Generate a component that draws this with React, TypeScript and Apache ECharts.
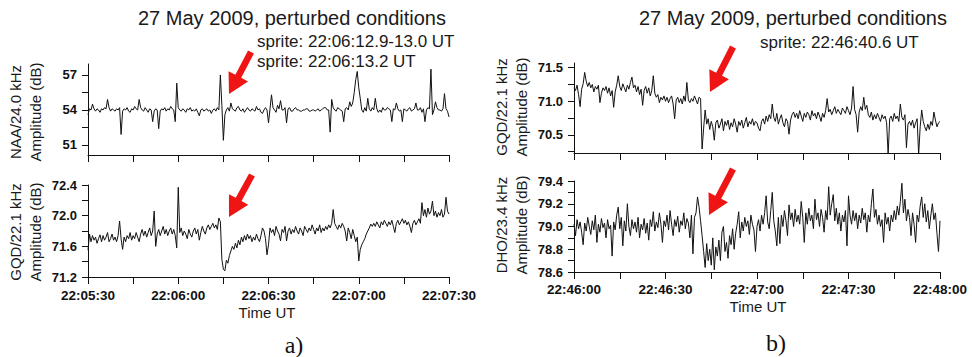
import React, { useEffect, useRef } from "react";
import * as echarts from "echarts";

// ---------- data (amplitudes in dB, sampled every 0.5 s from the panel start) ----------
const step = 0.5;

const naaA = [
  53.6, 54.1, 54.0, 54.5, 54.1, 53.9, 54.1, 54.0, 53.8, 54.1,
  54.0, 54.2, 54.1, 54.9, 54.2, 53.9, 54.1, 54.0, 53.9, 54.1,
  54.0, 54.2, 51.9, 53.9, 54.1, 54.0, 54.2, 53.9, 53.8, 54.1,
  54.0, 54.3, 54.1, 54.0, 54.9, 54.2, 54.0, 53.9, 54.2, 54.0,
  53.8, 54.1, 54.0, 53.0, 53.9, 54.1, 54.0, 52.4, 53.9, 54.1,
  54.0, 54.2, 53.9, 54.1, 54.0, 54.3, 54.1, 54.0, 53.0, 56.3,
  54.2, 54.0, 53.9, 54.1, 54.0, 53.8, 54.1, 54.0, 54.2, 53.9,
  54.0, 53.9, 54.1, 53.8, 53.5, 54.0, 54.1, 53.9, 54.0, 54.1,
  53.9, 54.0, 53.7, 54.0, 54.1, 53.9, 54.2, 54.0, 57.0, 54.4,
  51.4, 53.6, 54.0, 54.2, 53.9, 54.6, 54.1, 54.0, 53.9, 54.2,
  54.3, 54.0, 53.9, 54.1, 53.8, 54.0, 54.2, 54.0, 53.9, 54.1,
  54.0, 53.9, 54.3, 54.0, 54.1, 53.8, 53.7, 54.0, 54.2, 54.0,
  52.9, 54.1, 55.3, 54.2, 54.0, 53.8, 54.4, 54.1, 54.8, 54.0,
  54.0, 54.2, 52.9, 54.1, 54.2, 53.9, 53.9, 54.1, 54.2, 54.0,
  54.0, 53.9, 53.9, 54.0, 54.0, 54.1, 54.1, 53.9, 53.9, 54.0,
  54.0, 53.9, 54.0, 54.1, 53.9, 54.0, 54.1, 54.2, 54.2, 54.0,
  54.0, 52.1, 54.9, 54.2, 54.0, 53.9, 54.2, 54.1, 54.0, 53.9,
  53.0, 54.1, 54.2, 54.0, 54.7, 54.3, 54.6, 55.5, 56.6, 57.3,
  55.9, 55.0, 54.0, 53.8, 54.2, 53.9, 55.0, 54.1, 53.9, 54.2,
  54.0, 55.0, 54.1, 53.8, 54.0, 53.8, 54.2, 54.0, 54.0, 54.2,
  54.1, 54.0, 53.0, 54.1, 54.0, 54.6, 54.1, 53.9, 54.0, 53.0,
  54.1, 54.0, 53.9, 54.1, 54.2, 53.9, 54.0, 54.1, 54.6, 54.0,
  54.0, 54.2, 53.8, 54.1, 53.0, 54.0, 54.2, 54.1, 57.5, 53.6,
  54.0, 54.7, 54.2, 54.0, 54.0, 53.9, 54.1, 55.4, 54.1, 53.9,
  53.4,
];

const gqdA = [
  71.55, 71.76, 71.66, 71.74, 71.68, 71.72, 71.64, 71.70, 71.75, 71.66,
  71.74, 71.68, 71.72, 71.78, 71.66, 71.70, 71.76, 71.68, 71.72, 71.66,
  71.74, 71.93, 71.70, 71.56, 71.72, 71.66, 71.74, 71.70, 71.78, 71.68,
  71.74, 71.70, 71.78, 71.72, 71.66, 71.76, 71.82, 71.74, 71.80, 71.72,
  71.78, 71.84, 71.74, 71.80, 72.06, 71.60, 71.76, 71.82, 71.74, 71.80,
  71.86, 71.76, 71.82, 71.74, 71.80, 71.84, 71.76, 71.82, 71.74, 71.58,
  72.37, 71.78, 71.84, 71.74, 71.80, 71.76, 71.70, 71.82, 71.76, 71.72,
  71.80, 71.84, 71.76, 71.82, 71.68, 71.78, 71.86, 71.80, 71.76, 71.84,
  71.88, 71.82, 71.86, 71.90, 71.84, 71.88, 71.82, 71.97, 71.92, 71.43,
  71.30, 71.28, 71.42, 71.38, 71.48, 71.54, 71.60, 71.56, 71.64, 71.58,
  71.68, 71.62, 71.72, 71.66, 71.74, 71.68, 71.76, 71.70, 71.74, 71.66,
  71.72, 71.68, 71.76, 71.70, 71.66, 71.74, 71.84, 71.80, 71.70, 71.49,
  71.62, 71.84, 71.78, 71.82, 71.74, 71.86, 71.80, 71.76, 71.67, 71.82,
  71.78, 71.86, 71.67, 71.80, 71.84, 71.76, 71.82, 71.78, 71.86, 71.80,
  71.76, 71.84, 71.80, 71.74, 71.86, 71.82, 71.78, 71.84, 71.80, 71.88,
  71.82, 71.76, 71.84, 71.80, 71.88, 71.78, 71.84, 71.80, 71.86, 71.82,
  71.88, 71.84, 71.90, 72.08, 71.90, 71.86, 71.82, 71.88, 71.84, 71.90,
  71.86, 71.80, 71.67, 71.84, 71.78, 71.70, 71.82, 71.74, 71.66, 71.72,
  71.41, 71.56, 71.62, 71.66, 71.70, 71.76, 71.80, 71.84, 71.89, 71.86,
  71.90, 71.86, 71.92, 71.88, 71.84, 71.92, 71.88, 71.94, 71.90, 71.86,
  71.92, 71.88, 71.94, 71.86, 71.78, 71.90, 71.94, 71.88, 71.92, 71.96,
  71.90, 71.94, 71.88, 71.92, 71.86, 71.78, 71.90, 71.94, 71.88, 71.92,
  71.96, 71.90, 72.17, 72.00, 72.08, 71.98, 72.10, 72.02, 72.06, 72.19,
  72.00, 72.06, 71.98, 72.04, 72.00, 72.08, 71.98, 72.02, 72.24, 72.06,
  72.02,
];

const gqdB = [
  71.20, 71.16, 71.24, 71.10, 70.92, 71.18, 71.26, 71.43, 71.30, 71.22,
  71.28, 71.20, 71.25, 71.14, 71.22, 71.18, 71.24, 70.98, 71.12, 71.20,
  71.16, 71.22, 71.12, 71.20, 71.08, 71.16, 70.91, 71.14, 71.24, 71.38,
  71.22, 71.16, 71.26, 71.20, 71.14, 71.24, 71.18, 71.28, 71.36, 71.20,
  71.24, 71.14, 71.22, 71.10, 71.18, 70.94, 71.16, 71.22, 71.12, 71.20,
  71.08, 71.16, 71.38, 71.12, 71.06, 71.10, 70.98, 71.06, 71.02, 71.08,
  71.00, 71.06, 70.98, 71.04, 71.08, 70.96, 70.74, 71.02, 71.06, 70.98,
  71.04, 70.96, 71.08, 71.00, 71.28, 71.02, 70.98, 71.04, 71.00, 71.08,
  71.02, 70.96, 71.06, 71.04, 70.29, 70.60, 70.87, 70.66, 70.74, 70.58,
  70.70, 70.62, 70.42, 70.68, 70.72, 70.60, 70.66, 70.74, 70.56, 70.70,
  70.64, 70.72, 70.58, 70.68, 70.62, 70.74, 70.66, 70.54, 70.70, 70.64,
  70.72, 70.60, 70.68, 70.76, 70.62, 70.70, 70.66, 70.74, 70.64, 70.70,
  70.68, 70.60, 70.56, 70.70, 70.74, 70.66, 70.78, 70.70, 70.80, 70.74,
  70.96, 70.76, 70.70, 70.82, 70.66, 70.74, 70.80, 70.68, 70.62, 70.74,
  70.70, 70.51, 70.72, 70.80, 70.84, 70.76, 70.82, 70.74, 70.86, 70.78,
  70.70, 70.82, 70.76, 70.84, 70.80, 70.72, 70.86, 70.78, 70.82, 70.74,
  70.84, 70.78, 70.70, 70.82, 70.76, 70.86, 71.04, 70.84, 70.88, 70.80,
  70.86, 70.92, 70.82, 70.88, 70.84, 70.80, 70.90, 70.86, 70.82, 70.92,
  70.86, 70.80, 70.90, 71.22, 70.88, 70.80, 70.54, 70.84, 70.92, 70.86,
  71.06, 70.88, 70.94, 70.80, 70.76, 70.84, 70.72, 70.80, 70.74, 70.82,
  70.76, 70.70, 70.80, 70.74, 70.78, 70.68, 70.20, 70.74, 70.78, 70.70,
  70.82, 70.74, 70.78, 70.70, 70.96, 70.76, 70.72, 70.80, 70.31, 70.66,
  70.70, 70.64, 70.72, 70.60, 70.68, 70.74, 70.20, 70.62, 70.87, 70.70,
  70.62, 70.56, 70.66, 70.58, 70.70, 70.64, 70.84, 70.72, 70.62, 70.68,
  70.70,
];

const dhoB = [
  79.02, 78.92, 79.06, 78.98, 79.04, 78.95, 78.84, 79.03, 78.96, 79.08,
  79.00, 78.93, 79.05, 78.97, 79.10, 78.86, 79.02, 78.95, 79.07, 78.99,
  79.03, 78.90, 79.06, 78.98, 79.01, 78.74, 79.04, 78.97, 79.10, 79.17,
  78.98, 79.08, 78.83, 79.05, 78.96, 79.20, 79.00, 78.92, 79.06, 78.98,
  79.04, 78.95, 79.08, 78.90, 79.02, 78.97, 79.07, 78.94, 79.03, 78.88,
  79.06, 79.00, 79.13, 78.96, 79.04, 78.99, 79.12, 79.02, 78.86, 79.05,
  79.00, 79.10, 78.97, 79.14, 79.02, 78.92, 79.06, 79.00, 79.09, 78.95,
  79.05, 79.01, 79.12, 78.98, 79.07, 79.03, 78.90, 79.10, 78.76, 79.08,
  79.12, 79.26, 79.17, 79.05, 78.92, 78.78, 78.64, 78.85, 78.70, 78.80,
  78.66, 78.90, 78.62, 78.82, 78.74, 78.88, 78.70, 78.95, 79.00, 78.78,
  78.86, 78.72, 78.92, 78.84, 78.98, 78.80, 78.94, 79.02, 79.13, 78.90,
  79.04, 78.96, 79.08, 79.00, 79.05, 78.93, 79.10, 79.02, 78.97, 78.78,
  79.00, 79.06, 78.96, 79.10, 79.02, 79.12, 79.27, 79.04, 78.98, 79.14,
  79.30, 79.05, 78.96, 78.83, 79.08, 78.85, 79.10, 79.00, 79.14, 79.05,
  78.92, 79.19, 79.06, 79.12, 79.00, 79.15, 79.04, 79.10, 79.02, 79.22,
  79.08, 78.86, 79.12, 79.02, 79.16, 79.05, 79.10, 78.98, 79.24, 79.06,
  79.12, 79.00, 79.15, 79.08, 78.95, 79.14, 79.06, 79.35, 79.10, 79.20,
  79.28, 79.05, 79.16, 79.02, 79.12, 78.96, 79.10, 79.04, 79.14, 78.83,
  79.27, 79.10, 79.02, 79.14, 79.05, 79.12, 78.98, 79.10, 79.03, 79.16,
  79.06, 79.12, 78.95, 79.10, 79.04, 79.20, 79.33, 79.08, 79.15, 79.02,
  79.10, 79.00, 79.06, 78.86, 79.12, 79.02, 79.08, 78.96, 79.10, 79.04,
  79.14, 79.06, 79.18, 79.10, 79.22, 79.38, 79.12, 79.24, 79.05, 79.15,
  79.08, 78.92, 79.12, 79.02, 78.86, 79.10, 79.04, 79.18, 79.26, 79.08,
  79.20, 79.04, 79.14, 78.98, 79.10, 79.20, 79.06, 79.12, 78.94, 78.78,
  79.05,
];

// ---------- axis labels / ticks ----------
const timeLabelsA = ["22:05:30", "22:06:00", "22:06:30", "22:07:00", "22:07:30"];
const timeLabelsB = ["22:46:00", "22:46:30", "22:47:00", "22:47:30", "22:48:00"];
const xTickSeconds = [0, 15, 30, 45, 60, 75, 90, 105, 120];
const xLabelSeconds = [0, 30, 60, 90, 120];

const naaLabels = [51, 54, 57];
const naaTicks = [51, 52.5, 54, 55.5, 57];
const gqdALabels = [71.2, 71.6, 72.0, 72.4];
const gqdATicks = [71.2, 71.4, 71.6, 71.8, 72.0, 72.2, 72.4];
const gqdBLabels = [70.5, 71.0, 71.5];
const gqdBTicks = [70.25, 70.5, 70.75, 71.0, 71.25, 71.5];
const dhoLabels = [78.6, 78.8, 79.0, 79.2, 79.4];
const dhoTicks = [78.6, 78.7, 78.8, 78.9, 79.0, 79.1, 79.2, 79.3, 79.4];

const FONT = "'Liberation Sans', Arial, sans-serif";

function toPairs(arr: number[], dt: number) {
  return arr.map((v, i) => [i * dt, v]);
}

function arrowPoints(x1: number, y1: number, x2: number, y2: number) {
  const dx = x2 - x1, dy = y2 - y1;
  const L = Math.hypot(dx, dy);
  const ux = dx / L, uy = dy / L;
  const px = -uy, py = ux;
  const hl = 20, hw = 11, sw = 3.3;
  const bx = x2 - ux * hl, by = y2 - uy * hl;
  return [
    [x1 + px * sw, y1 + py * sw],
    [bx + px * sw, by + py * sw],
    [bx + px * hw, by + py * hw],
    [x2, y2],
    [bx - px * hw, by - py * hw],
    [bx - px * sw, by - py * sw],
    [x1 - px * sw, y1 - py * sw],
  ];
}

export default function App() {
  const ref = useRef<HTMLDivElement>(null);

  useEffect(() => {
    if (!ref.current) return;
    const chart = echarts.init(ref.current, undefined, { renderer: "svg" });

    const grids = [
      { left: 88, top: 64, width: 361, height: 91 },
      { left: 88, top: 185, width: 361, height: 92 },
      { left: 574, top: 63, width: 366, height: 90 },
      { left: 574, top: 181, width: 366, height: 91 },
    ];

    const mkX = (idx: number, labels: string[] | null, margin: number) => ({
      type: "value",
      gridIndex: idx,
      min: 0,
      max: 120,
      interval: 15,
      axisLine: { show: true, onZero: false, lineStyle: { color: "#111", width: 1 } },
      axisTick: { show: true, length: 7, customValues: xTickSeconds, lineStyle: { color: "#111" } },
      axisLabel: labels
        ? {
            show: true,
            customValues: xLabelSeconds,
            margin,
            fontFamily: FONT,
            fontWeight: "bold",
            fontSize: 13.5,
            color: "#111",
            formatter: (v: number) => labels[Math.round(v / 30)] ?? "",
          }
        : { show: false },
      splitLine: { show: false },
    });

    const mkY = (idx: number, min: number, max: number, labels: number[], ticks: number[], dec: number) => ({
      type: "value",
      gridIndex: idx,
      min,
      max,
      axisLine: { show: true, onZero: false, lineStyle: { color: "#111", width: 1 } },
      axisTick: { show: true, length: 6, customValues: ticks, lineStyle: { color: "#111" } },
      axisLabel: {
        show: true,
        customValues: labels,
        margin: 11,
        fontFamily: FONT,
        fontWeight: "bold",
        fontSize: 13,
        color: "#111",
        formatter: (v: number) => v.toFixed(dec),
      },
      splitLine: { show: false },
    });

    const lineSeries = (idx: number, data: number[][], width: number) => ({
      type: "line",
      xAxisIndex: idx,
      yAxisIndex: idx,
      data,
      showSymbol: false,
      symbol: "none",
      lineStyle: { color: "#111", width },
      clip: true,
    });

    const txt = (text: string, x: number, y: number, size: number, align = "left", extra: any = {}) => ({
      type: "text",
      x,
      y,
      ...extra,
      style: {
        text,
        font: `${size}px ${FONT}`,
        fill: "#1a1a1a",
        align,
        textAlign: align,
        verticalAlign: "middle",
        textVerticalAlign: "middle",
      },
    });

    const rot = (text: string, x: number, y: number) =>
      txt(text, x, y, 15, "center", { rotation: Math.PI / 2 });

    const arrows = [
      [251, 52, 229, 94],
      [252, 175, 229, 217],
      [733, 47, 710, 92],
      [733, 169, 709, 215],
    ].map(([a, b, c, d]) => ({
      type: "polygon",
      shape: { points: arrowPoints(a, b, c, d) },
      style: { fill: "#f01515" },
      z: 10,
    }));

    const serif = "24px 'Liberation Serif', 'DejaVu Serif', serif";

    chart.setOption({
      animation: false,
      backgroundColor: "#ffffff",
      grid: grids.map((g) => ({ ...g, containLabel: false, outerBoundsMode: "none" })),
      xAxis: [mkX(0, null, 11), mkX(1, timeLabelsA, 11), mkX(2, null, 10), mkX(3, timeLabelsB, 10)],
      yAxis: [
        mkY(0, 50.14, 57.94, naaLabels, naaTicks, 0),
        mkY(1, 71.2, 72.4, gqdALabels, gqdATicks, 1),
        mkY(2, 70.23, 71.57, gqdBLabels, gqdBTicks, 1),
        mkY(3, 78.6, 79.4, dhoLabels, dhoTicks, 1),
      ],
      series: [
        lineSeries(0, toPairs(naaA, step), 1),
        lineSeries(1, toPairs(gqdA, step), 1),
        lineSeries(2, toPairs(gqdB, step), 1),
        lineSeries(3, toPairs(dhoB, step), 1),
      ],
      graphic: [
        txt("27 May 2009, perturbed conditions", 138, 18, 20),
        txt("sprite: 22:06:12.9-13.0 UT", 257, 41, 17),
        txt("sprite: 22:06:13.2 UT", 257, 61, 17),
        txt("27 May 2009, perturbed conditions", 639, 18, 20),
        txt("sprite: 22:46:40.6 UT", 760, 42, 17),
        rot("NAA/24.0 kHz", 15, 112),
        rot("Amplitude (dB)", 35, 112),
        rot("GQD/22.1 kHz", 15, 232),
        rot("Amplitude (dB)", 35, 232),
        rot("GQD/22.1 kHz", 501, 107),
        rot("Amplitude (dB)", 521, 107),
        rot("DHO/23.4 kHz", 501, 225),
        rot("Amplitude (dB)", 521, 225),
        txt("Time UT", 267, 312, 15, "center"),
        txt("Time UT", 758, 306, 15, "center"),
        {
          type: "text",
          x: 294,
          y: 345,
          style: { text: "a)", font: serif, fill: "#111", align: "center", textAlign: "center", verticalAlign: "middle", textVerticalAlign: "middle" },
        },
        {
          type: "text",
          x: 776,
          y: 343,
          style: { text: "b)", font: serif, fill: "#111", align: "center", textAlign: "center", verticalAlign: "middle", textVerticalAlign: "middle" },
        },
        ...arrows,
      ],
    });

    return () => chart.dispose();
  }, []);

  return (
    <div
      ref={ref}
      style={{ position: "fixed", left: 0, top: 0, width: 972, height: 357, background: "#fff" }}
    />
  );
}
